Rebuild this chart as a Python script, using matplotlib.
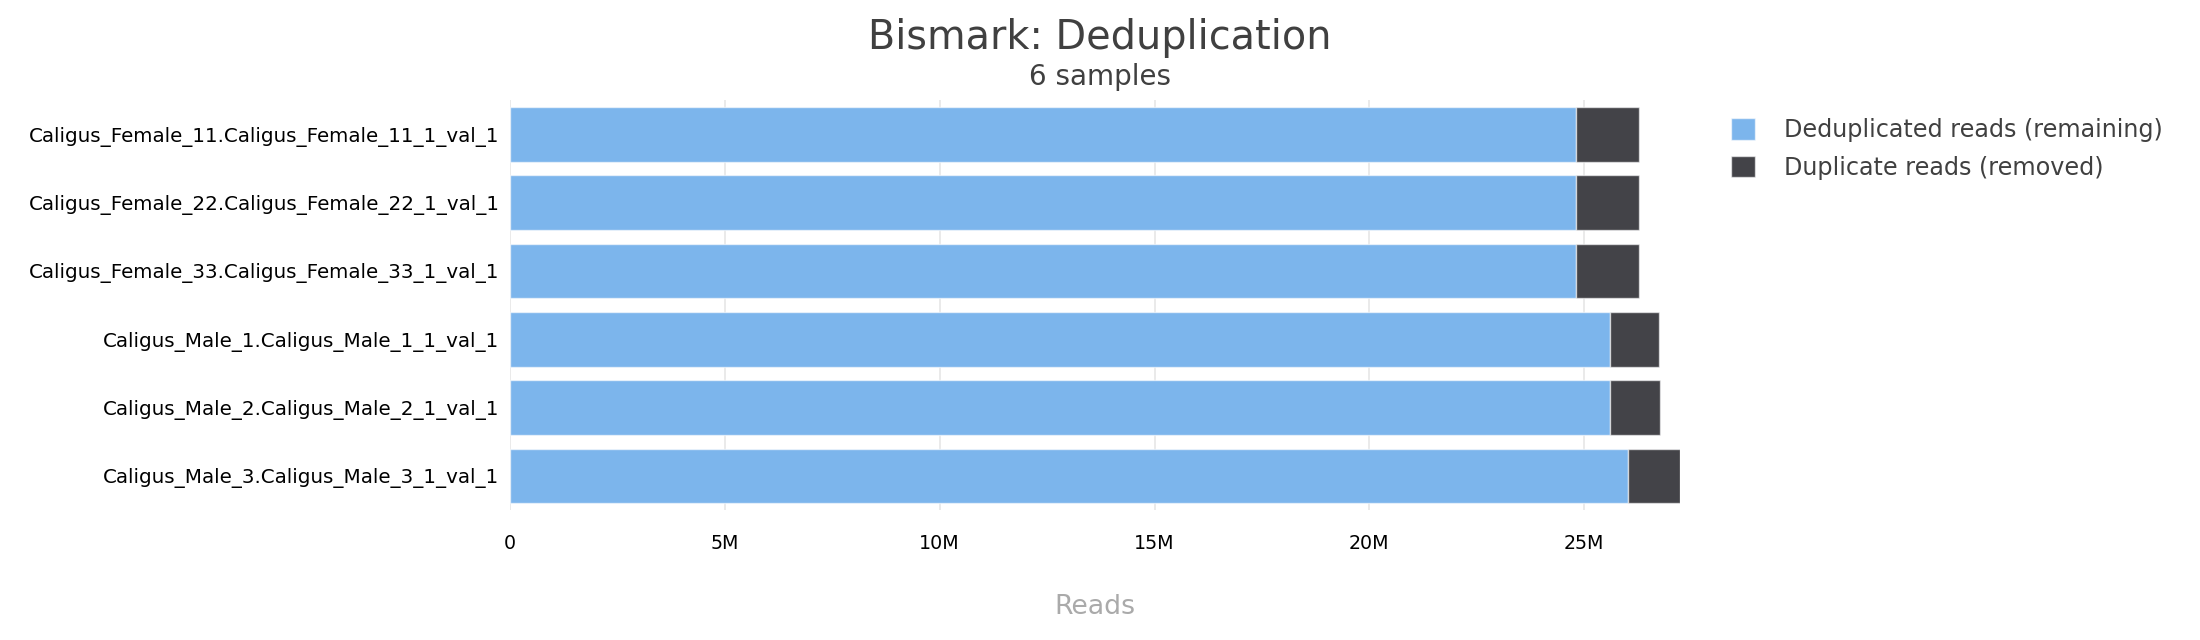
import matplotlib
matplotlib.use("Agg")
import matplotlib.pyplot as plt
import numpy as np
from matplotlib.ticker import FuncFormatter, MultipleLocator

samples = [
    "Caligus_Female_11.Caligus_Female_11_1_val_1",
    "Caligus_Female_22.Caligus_Female_22_1_val_1",
    "Caligus_Female_33.Caligus_Female_33_1_val_1",
    "Caligus_Male_1.Caligus_Male_1_1_val_1",
    "Caligus_Male_2.Caligus_Male_2_1_val_1",
    "Caligus_Male_3.Caligus_Male_3_1_val_1",
]
dedup_reads = [24.82e6, 24.82e6, 24.82e6, 25.59e6, 25.60e6, 26.03e6]
dup_reads = [1.46e6, 1.45e6, 1.46e6, 1.16e6, 1.17e6, 1.20e6]

BLUE = "#7cb5ec"
DARK = "#434348"

fig = plt.figure(figsize=(22, 6.4), dpi=100)
ax = fig.add_axes([510 / 2200, 1 - 510 / 640, 1170 / 2200, 410 / 640])

y = np.arange(len(samples))
edge = (1, 1, 1, 0.6)
ax.barh(y, dedup_reads, height=0.8, color=BLUE, edgecolor=edge, linewidth=1,
        label="Deduplicated reads (remaining)", zorder=3)
ax.barh(y, dup_reads, left=dedup_reads, height=0.8, color=DARK, edgecolor=edge,
        linewidth=1, label="Duplicate reads (removed)", zorder=3)

totals = [a + b for a, b in zip(dedup_reads, dup_reads)]
ax.set_xlim(0, max(totals))
ax.set_ylim(len(samples) - 0.5, -0.5)
ax.set_yticks(y)
ax.set_yticklabels(samples, fontsize=14.3, color="black")
ax.xaxis.set_major_locator(MultipleLocator(5e6))
ax.xaxis.set_major_formatter(FuncFormatter(lambda v, p: "0" if v == 0 else f"{v / 1e6:.0f}M"))
ax.tick_params(axis="x", labelsize=13.7, colors="black", length=0, pad=17)
ax.tick_params(axis="y", length=0, pad=7.5)
ax.grid(axis="x", color="#e6e6e6", linewidth=1.2, zorder=0)
for s in ax.spines.values():
    s.set_visible(False)

ax.set_xlabel("Reads", fontsize=19.3, color="#aaaaaa", labelpad=30)

fig.text(0.5, 1 - 38 / 640, "Bismark: Deduplication", ha="center", va="center",
         fontsize=28.6, color="#404040")
fig.text(0.5, 1 - 77 / 640, "6 samples", ha="center", va="center",
         fontsize=20, color="#404040")

h, l = ax.get_legend_handles_labels()
leg = fig.legend(h, l, loc="upper left", bbox_to_anchor=(1731 / 2200, 1 - 118 / 640),
                 frameon=False, fontsize=17.2, handlelength=1.0, handleheight=1.0,
                 handletextpad=1.2, labelspacing=0.58, borderpad=0, borderaxespad=0)
for t in leg.get_texts():
    t.set_color("#404040")

fig.savefig("out.png", dpi=100)
